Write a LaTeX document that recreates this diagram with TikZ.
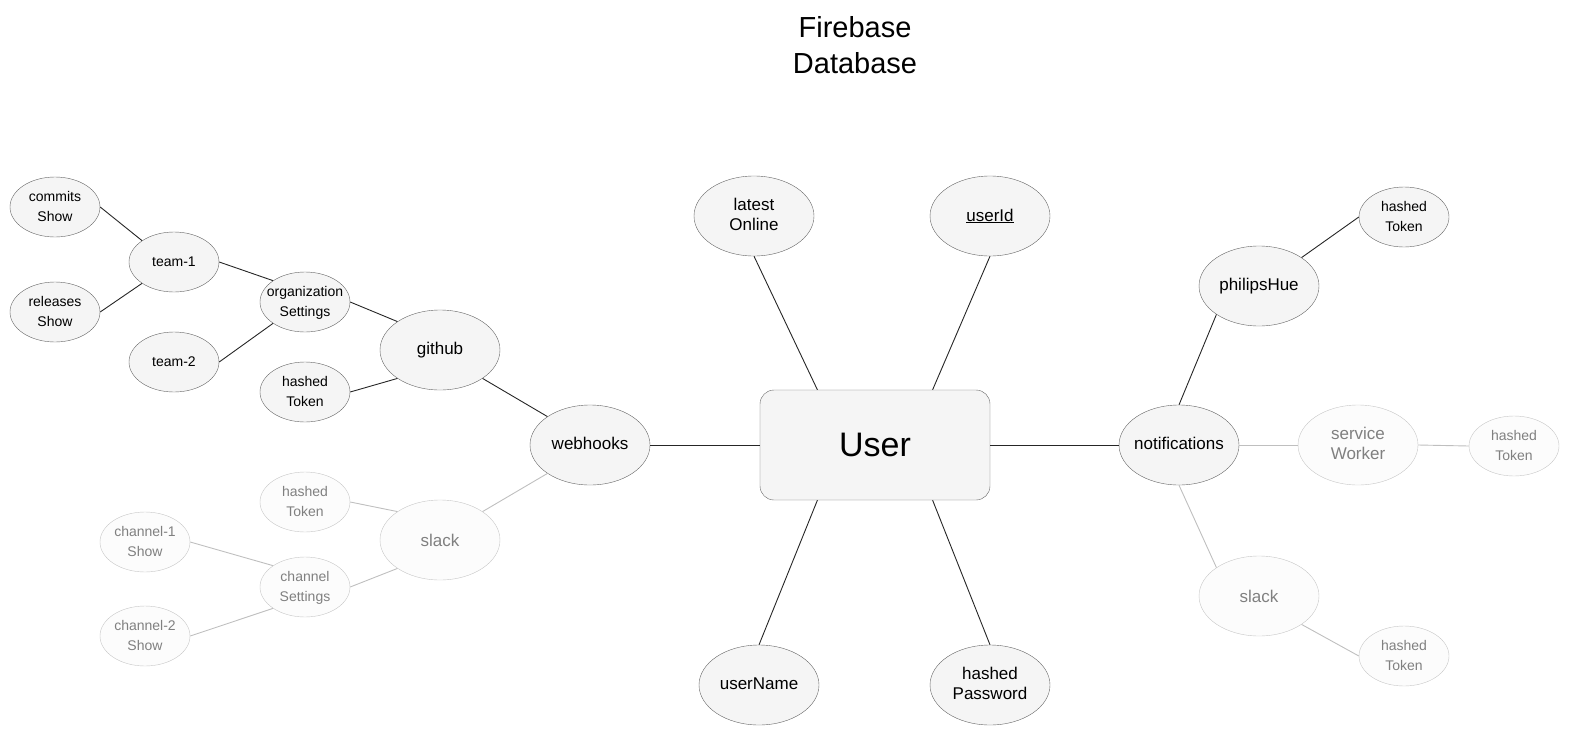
\documentclass[tikz,border=0pt]{standalone}
\usepackage{fontspec}
\setmainfont{Liberation Sans}
\usepackage{tikz}
\usetikzlibrary{shapes,calc}

\newcommand{\ctext}[1]{\makebox[0pt]{\begin{tabular}{@{}c@{}}#1\end{tabular}}}

\begin{document}
\begin{tikzpicture}[x=1pt,y=-1pt,
	big/.style={ellipse,draw=black!60,fill=black!4,minimum width=120pt,minimum height=80pt,inner sep=0pt,font=\fontsize{17}{20}\selectfont},
	small/.style={big,minimum width=90pt,minimum height=60pt,font=\fontsize{14}{20}\selectfont},
	faded/.style={draw=black!22,fill=black!1,text=black!50},
	link/.style={draw=black!85,line width=0.9pt},
	flink/.style={draw=black!25,line width=0.9pt}]
		\useasboundingbox (0,0) rectangle (1571,736);
		\node (title) at (855,45) [align=center,font=\fontsize{29}{36}\selectfont] {Firebase\\Database};
		\node (us) at (875,445) [draw=black!60,fill=black!4,rounded corners=14pt,minimum width=230pt,minimum height=110pt,font=\fontsize{34}{40}\selectfont] {User};
		\node (lo) at (754,216) [big] {\ctext{latest\\Online}};
		\node (id) at (990,216) [big] {\underline{userId}};
		\node (un) at (759,685) [big] {\ctext{userName}};
		\node (hp) at (990,685) [big] {\ctext{hashed\\Password}};
		\node (wh) at (590,445) [big] {\ctext{webhooks}};
		\node (nt) at (1179,445) [big] {\ctext{notifications}};
		\node (gh) at (440,350) [big] {github};
		\node (ghtk) at (305,392) [small] {\ctext{hashed\\Token}};
		\node (org) at (305,302) [small] {\ctext{organization\\Settings}};
		\node (t1) at (174,262) [small] {team-1};
		\node (t2) at (174,362) [small] {team-2};
		\node (cm) at (55,207) [small] {\ctext{commits\\Show}};
		\node (rl) at (55,312) [small] {\ctext{releases\\Show}};
		\node (sl) at (440,540) [big,faded] {slack};
		\node (sltk) at (305,502) [small,faded] {\ctext{hashed\\Token}};
		\node (ch) at (305,587) [small,faded] {\ctext{channel\\Settings}};
		\node (c1) at (145,542) [small,faded] {\ctext{channel-1\\Show}};
		\node (c2) at (145,636) [small,faded] {\ctext{channel-2\\Show}};
		\node (ph) at (1259,286) [big] {\ctext{philipsHue}};
		\node (phtk) at (1404,217) [small] {\ctext{hashed\\Token}};
		\node (sw) at (1358,445) [big,faded] {\ctext{service\\Worker}};
		\node (swtk) at (1514,446) [small,faded] {\ctext{hashed\\Token}};
		\node (sr) at (1259,596) [big,faded] {slack};
		\node (srtk) at (1404,656) [small,faded] {\ctext{hashed\\Token}};
		\draw[link] (lo.south) -- ($(us.north west)!.25!(us.north east)$);
		\draw[link] (id.south) -- ($(us.north west)!.75!(us.north east)$);
		\draw[link] (un.north) -- ($(us.south west)!.25!(us.south east)$);
		\draw[link] (hp.north) -- ($(us.south west)!.75!(us.south east)$);
		\draw[link] (wh.east) -- (us.west);
		\draw[link] (us.east) -- (nt.west);
		\draw[link] (gh.south east) -- (wh.north west);
		\draw[link] (ghtk.east) -- (gh.south west);
		\draw[link] (org.east) -- (gh.north west);
		\draw[link] (t1.east) -- (org.north west);
		\draw[link] (t2.east) -- (org.south west);
		\draw[link] (cm.east) -- (t1.north west);
		\draw[link] (rl.east) -- (t1.south west);
		\draw[link] (nt.north) -- (ph.south west);
		\draw[link] (ph.north east) -- (phtk.west);
		\draw[flink] (wh.south west) -- (sl.north east);
		\draw[flink] (sltk.east) -- (sl.north west);
		\draw[flink] (ch.east) -- (sl.south west);
		\draw[flink] (c1.east) -- (ch.north west);
		\draw[flink] (c2.east) -- (ch.south west);
		\draw[flink] (nt.east) -- (sw.west);
		\draw[flink] (sw.east) -- (swtk.west);
		\draw[flink] (nt.south) -- (sr.north west);
		\draw[flink] (sr.south east) -- (srtk.west);
\end{tikzpicture}
\end{document}
